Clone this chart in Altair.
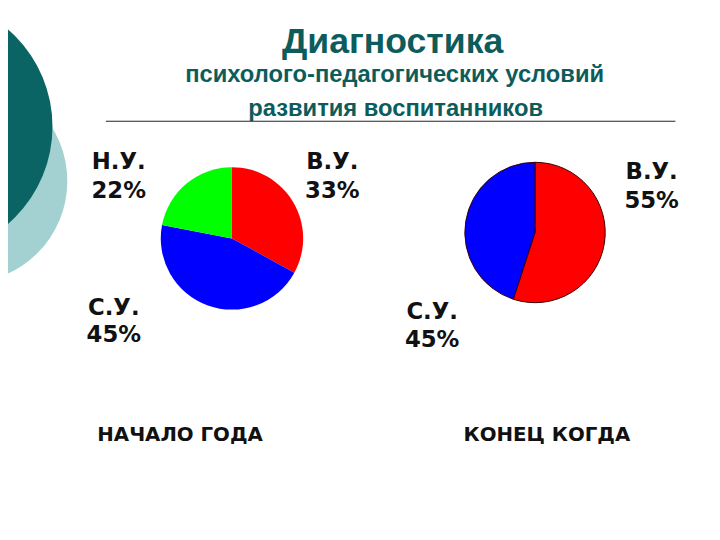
import altair as alt
import pandas as pd

# ---- data ----
start_categories = ["В.У.", "С.У.", "Н.У."]
start_values = [33, 45, 22]
end_categories = ["В.У.", "С.У."]
end_values = [55, 45]
period_labels = ["НАЧАЛО ГОДА", "КОНЕЦ КОГДА"]
title_text = "Диагностика"
subtitle_lines = ["психолого-педагогических условий", "развития воспитанников"]

cat_domain = ["В.У.", "С.У.", "Н.У."]
cat_colors = ["#ff0000", "#0000ff", "#00ff00"]

W, H = 712, 532
OFF = 8  # page margin


def px(v):
    return v - OFF


one = alt.Data(values=[{"k": 1}])
layers = []

# decorative circles (left); symbol size = bounding-box area
layers.append(alt.Chart(one).mark_circle(opacity=1, color="#a3d0d0").encode(
    x=alt.value(px(-35)), y=alt.value(px(180)), size=alt.value((2 * 103) ** 2)))
layers.append(alt.Chart(one).mark_circle(opacity=1, color="#0a6464").encode(
    x=alt.value(px(-77)), y=alt.value(px(125)), size=alt.value((2 * 130) ** 2)))

# title and subtitle
teal = "#0d5c5c"
layers.append(alt.Chart(one).mark_text(
    text=title_text, font="Liberation Sans", fontWeight="bold", fontSize=36,
    color=teal, align="center", baseline="alphabetic").encode(
    x=alt.value(px(397)), y=alt.value(px(50))))
layers.append(alt.Chart(one).mark_text(
    text=subtitle_lines[0], font="Liberation Sans", fontWeight="bold", fontSize=24,
    color=teal, align="center", baseline="alphabetic").encode(
    x=alt.value(px(399)), y=alt.value(px(80))))
layers.append(alt.Chart(one).mark_text(
    text=subtitle_lines[1], font="Liberation Sans", fontWeight="bold", fontSize=24,
    color=teal, align="center", baseline="alphabetic").encode(
    x=alt.value(px(400)), y=alt.value(px(114))))

# horizontal rule
layers.append(alt.Chart(one).mark_rule(color="#222222", strokeWidth=1).encode(
    x=alt.value(px(107)), x2=alt.value(px(683)), y=alt.value(px(119.5))))

# pies
df1 = pd.DataFrame({"cat": start_categories, "val": start_values, "idx": range(len(start_values))})
df2 = pd.DataFrame({"cat": end_categories, "val": end_values, "idx": range(len(end_values))})

color_enc = alt.Color("cat:N", scale=alt.Scale(domain=cat_domain, range=cat_colors), legend=None)

pie1 = alt.Chart(df1).mark_arc(outerRadius=72).encode(
    theta=alt.Theta("val:Q", stack=True),
    color=color_enc,
    order=alt.Order("idx:Q"),
    x=alt.value(px(234.5)), y=alt.value(px(238)))
pie2 = alt.Chart(df2).mark_arc(outerRadius=71, stroke="#3a0000", strokeWidth=1).encode(
    theta=alt.Theta("val:Q", stack=True),
    color=color_enc,
    order=alt.Order("idx:Q"),
    x=alt.value(px(541)), y=alt.value(px(232)))
layers += [pie1, pie2]

# slice labels
label_font = dict(font="DejaVu Sans", fontWeight="bold", fontSize=23, color="#111111",
                  align="center", baseline="alphabetic")
start_pos = {"В.У.": (336, 168, 197), "С.У.": (115, 315, 343), "Н.У.": (120, 168, 197)}
end_pos = {"В.У.": (659, 178, 207), "С.У.": (437, 320, 348)}

for cats, vals, pos in [(start_categories, start_values, start_pos),
                        (end_categories, end_values, end_pos)]:
    for c, v in zip(cats, vals):
        cx, y1, y2 = pos[c]
        layers.append(alt.Chart(one).mark_text(text=c, **label_font).encode(
            x=alt.value(px(cx)), y=alt.value(px(y1))))
        layers.append(alt.Chart(one).mark_text(text=f"{v}%", **label_font).encode(
            x=alt.value(px(cx)), y=alt.value(px(y2))))

# period labels
for t, cx in zip(period_labels, [182, 553]):
    layers.append(alt.Chart(one).mark_text(
        text=t, font="DejaVu Sans", fontWeight="bold", fontSize=20, color="#111111",
        align="center", baseline="alphabetic").encode(
        x=alt.value(px(cx)), y=alt.value(px(443))))

chart = alt.layer(*layers).resolve_scale(theta="independent").properties(
    width=W, height=H, autosize=alt.AutoSizeParams(type="none"), padding=0
).configure_view(stroke=None)

chart.save("out.html", embed_options={"renderer": "svg", "actions": False})
